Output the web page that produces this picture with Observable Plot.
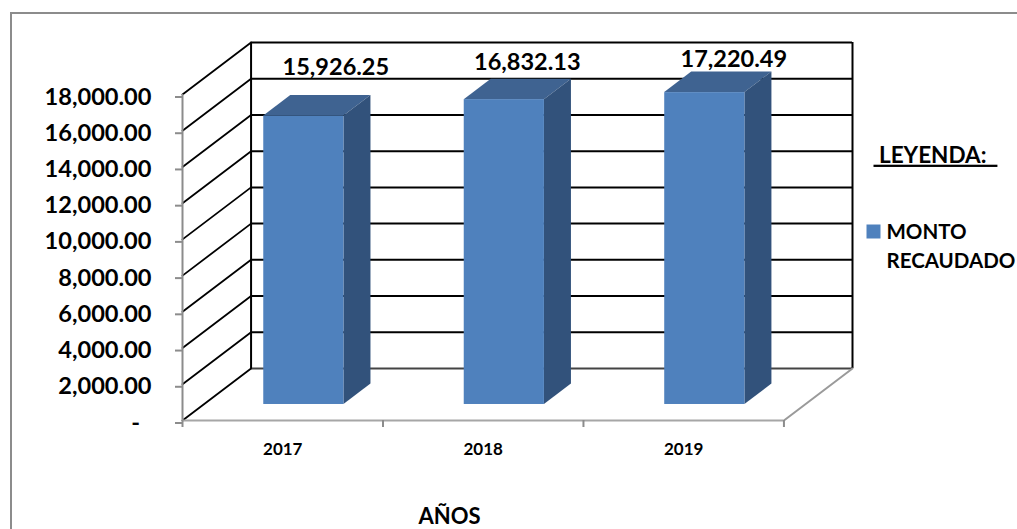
<!DOCTYPE html>
<html><head><meta charset="utf-8">
<script src="https://cdn.jsdelivr.net/npm/d3@7"></script>
<script src="https://cdn.jsdelivr.net/npm/@observablehq/plot@0.6"></script>
<style>
html,body{margin:0;padding:0;background:#fff}
#chart{position:relative;width:1017px;height:529px;overflow:hidden}
#chart::before{content:"";position:absolute;left:10px;top:12px;right:-5px;bottom:-5px;border-left:2px solid #8c8c8c;border-top:2px solid #8c8c8c}
#chart svg{position:absolute;left:0;top:0;background:transparent}
.leyenda text{text-decoration:underline;white-space:pre}
</style></head><body><div id="chart"></div>
<script>
const years = ["2017", "2018", "2019"];
const montos = [15926.25, 16832.13, 17220.49];
const montoLabels = ["15,926.25", "16,832.13", "17,220.49"];
const yTicks = [0, 2000, 4000, 6000, 8000, 10000, 12000, 14000, 16000, 18000];
const xEdges = [0, 1, 2, 3];
const xCenters = [0.5, 1.5, 2.5];
const FONT = "Lato, Carlito, sans-serif";

// oblique projection of the 3D box: depth 0 (front) .. 1 (back wall), in data units
const DX = 0.342, DY = 2871;
const px = (c, d) => c + d * DX;
const py = (v, d) => v + d * DY;
const barW = 0.4, d0 = 0.308, d1 = 0.702;

const bars = years.map((year, i) => ({year, v: montos[i], l: i + 0.5 - barW / 2, r: i + 0.5 + barW / 2}));
const side = bars.flatMap(b => [d0, d1].map(d => ({year: b.year, x: px(b.r, d), y1: py(0, d), y2: py(b.v, d)})));
const top_ = bars.flatMap(b => [d0, d1].map(d => ({year: b.year, x1: px(b.l, d), x2: px(b.r, d), y: py(b.v, d)})));
const slants = yTicks.flatMap(v => [0, 1].map(d => ({v, x: px(0, d), y: py(v, d)})));
const labelShift = [[33, -50], [24, -38], [30, -34]];

const label = (text, dx, dy, o = {}) => Plot.text([text], {
  frameAnchor: "top-left", dx: dx - 182, dy: dy - 42, lineAnchor: "middle", fontFamily: FONT, fontWeight: 700,
  fontSize: 20.5, fill: "#000", textAnchor: "start", ...o
});

const plot = Plot.plot({
  width: 1017, height: 529,
  marginLeft: 182, marginRight: 165, marginTop: 42, marginBottom: 109,
  style: {background: "transparent", overflow: "visible"},
  x: {type: "linear", domain: [0, 3 + DX]},
  y: {type: "linear", domain: [0, 18000 + DY]},
  marks: [
    // back wall gridlines
    Plot.ruleY(yTicks.filter(v => v > 0).map(v => py(v, 1)), {x1: px(0, 1), x2: px(3, 1), stroke: "#000", strokeWidth: 2}),
    Plot.ruleY([py(0, 1)], {x1: px(0, 1), x2: px(3, 1), stroke: "#444", strokeWidth: 2}),
    Plot.ruleX([px(0, 1), px(3, 1)], {y1: py(0, 1), y2: py(18000, 1), stroke: "#000", strokeWidth: 2}),
    // side wall gridlines
    Plot.line(slants, {x: "x", y: "y", z: "v", stroke: "#000", strokeWidth: 1.8}),
    // floor
    Plot.line([0, 1].map(d => ({x: px(3, d), y: py(0, d)})), {x: "x", y: "y", stroke: "#9a9a9a", strokeWidth: 2}),
    // axis lines
    Plot.ruleX([0], {y1: 0, y2: 18000, stroke: "#8c8c8c", strokeWidth: 2}),
    Plot.ruleY([0], {x1: 0, x2: 3, stroke: "#a6a6a6", strokeWidth: 2}),
    Plot.axisY({
      ticks: yTicks, anchor: "left", tickSize: 7, tickPadding: 24, stroke: "#8c8c8c", fill: "#000",
      strokeWidth: 2, tickFormat: v => v === 0 ? "-  " : d3.format(",.2f")(v),
      fontFamily: FONT, fontWeight: 700, fontSize: 23.6, label: null, dy: 2.5, lineAnchor: "middle"
    }),
    Plot.axisX({
      ticks: xEdges, anchor: "bottom", tickSize: 7, tickFormat: () => "", stroke: "#8c8c8c", strokeWidth: 2, label: null
    }),
    Plot.axisX({
      ticks: xCenters, anchor: "bottom", tickSize: 0, tickPadding: 22, fill: "#000", strokeOpacity: 0,
      tickFormat: c => years[Math.floor(c)], fontFamily: FONT, fontWeight: 700, fontSize: 17, label: null
    }),
    // bars
    Plot.area(top_, {x1: "x1", x2: "x2", y1: "y", y2: "y", z: "year", fill: "#3f6391"}),
    Plot.area(side, {x1: "x", x2: "x", y1: "y1", y2: "y2", z: "year", fill: "#32527b"}),
    Plot.rect(bars, {
      x1: b => px(b.l, d0), x2: b => px(b.r, d0), y1: py(0, d0), y2: b => py(b.v, d0), fill: "#4f81bd"
    }),
    // value labels
    ...bars.map((b, i) => Plot.text([montoLabels[i]], {
      x: px(i + 0.5, d0), y: py(b.v, d0), dx: labelShift[i][0] - 1, dy: labelShift[i][1] + 1,
      fontFamily: FONT, fontWeight: 700, fontSize: 23.5, fill: "#000"
    })),
    // axis title and legend
    label("AÑOS", 449, 516, {textAnchor: "middle", fontSize: 22}),
    label(" LEYENDA:  ", 873, 155, {className: "leyenda", fontSize: 22.5}),
    Plot.dot([0], {frameAnchor: "top-left", dx: 873 - 182, dy: 231 - 42, symbol: "square", r: 7.9, fill: "#4f81bd"}),
    label("MONTO", 886, 232),
    label("RECAUDADO", 886, 261)
  ]
});
document.getElementById("chart").appendChild(plot);
</script></body></html>
